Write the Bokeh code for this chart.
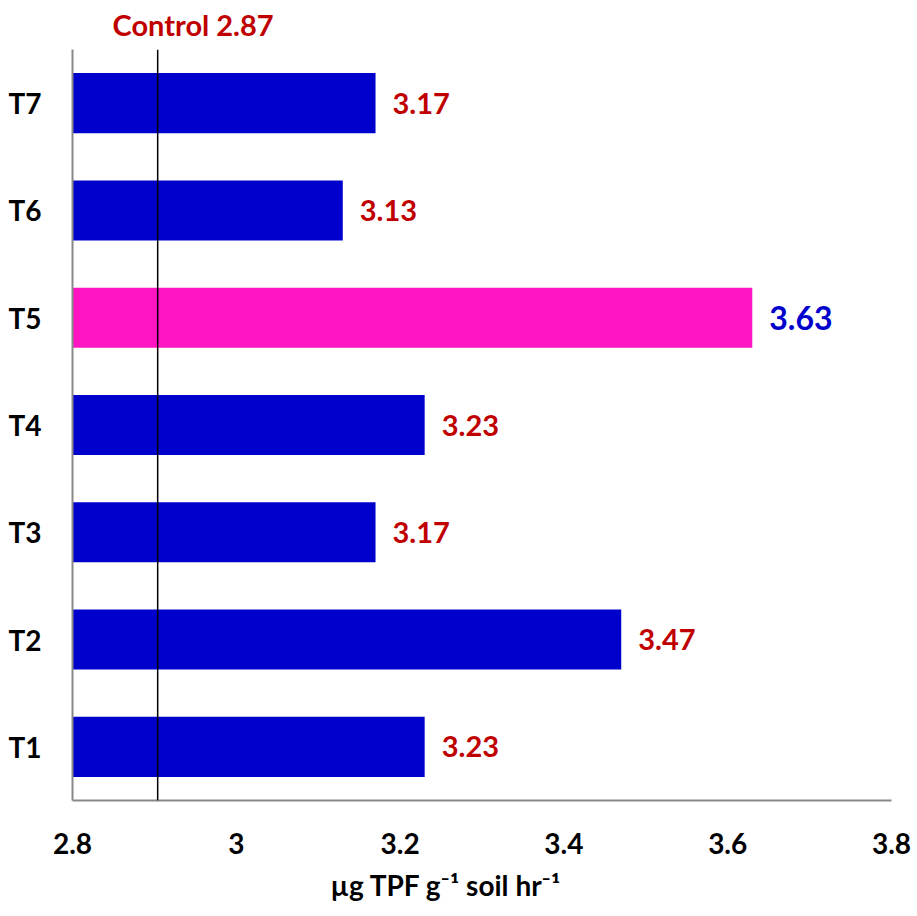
from bokeh.plotting import figure
from bokeh.models import FactorRange, Range1d, FixedTicker, Span, Title, ColumnDataSource
from bokeh.core.properties import value
from bokeh.embed import file_html
from bokeh.resources import INLINE

# ---- data ----
treatments = ["T1", "T2", "T3", "T4", "T5", "T6", "T7"]
values = [3.23, 3.47, 3.17, 3.23, 3.63, 3.13, 3.17]
value_labels = ["3.23", "3.47", "3.17", "3.23", "3.63", "3.13", "3.17"]
highlight = "T5"
control_value = 2.87
control_line_at = 2.904
x_ticks = [2.8, 3.0, 3.2, 3.4, 3.6, 3.8]
x_tick_labels = ["2.8", "3", "3.2", "3.4", "3.6", "3.8"]
x_title = "µg TPF g⁻¹ soil hr⁻¹"

FONT = "Lato"
BLUE = "#0000CC"
PINK = "#FF14C4"
RED = "#C00000"

bar_colors = [PINK if t == highlight else BLUE for t in treatments]
label_colors = [BLUE if t == highlight else RED for t in treatments]
label_sizes = ["32px" if t == highlight else "29px" for t in treatments]

src = ColumnDataSource(dict(t=treatments, v=values, lab=value_labels,
                            c=bar_colors, lc=label_colors, ls=label_sizes,
                            left=[2.8] * len(treatments)))

p = figure(width=917, height=916, output_backend="svg", toolbar_location=None,
           y_range=FactorRange(factors=treatments), x_range=Range1d(2.8, 3.8),
           min_border_left=72, min_border_right=26, min_border_top=49,
           min_border_bottom=116, outline_line_color=None)

p.title = Title(text="Control %.2f" % control_value, text_color=RED,
                text_font=FONT, text_font_size="29px", text_font_style="bold",
                align="left", vertical_align="top", offset=40, standoff=12)

p.hbar(y="t", left="left", right="v", height=0.56, fill_color="c",
       line_color=None, source=src)

p.text(x="v", y="t", text="lab", text_color="lc", text_font_size="ls",
       text_font=value(FONT), text_font_style="bold", text_baseline="middle",
       text_align="left", x_offset=17, source=src)

p.add_layout(Span(location=control_line_at, dimension="height",
                  line_color="black", line_width=1.5))

p.grid.visible = False

xa = p.xaxis[0]
xa.ticker = FixedTicker(ticks=x_ticks)
xa.major_label_overrides = {t: l for t, l in zip(x_ticks, x_tick_labels)}
xa.major_tick_line_color = None
xa.minor_tick_line_color = None
xa.axis_line_color = "#888888"
xa.axis_line_width = 2
xa.major_label_text_font = FONT
xa.major_label_text_font_style = "bold"
xa.major_label_text_font_size = "28px"
xa.major_label_text_color = "black"
xa.major_label_standoff = 26

p.add_layout(Title(text=x_title, text_color="black", text_font=FONT,
                   text_font_size="28px", text_font_style="bold",
                   align="left", offset=258, standoff=18), "below")

ya = p.yaxis[0]
ya.major_tick_line_color = None
ya.minor_tick_line_color = None
ya.axis_line_color = "#888888"
ya.axis_line_width = 2
ya.major_label_text_font = FONT
ya.major_label_text_font_style = "bold"
ya.major_label_text_font_size = "28px"
ya.major_label_text_color = "black"
ya.major_label_standoff = 25

open("out.html", "w").write(file_html(p, INLINE))
